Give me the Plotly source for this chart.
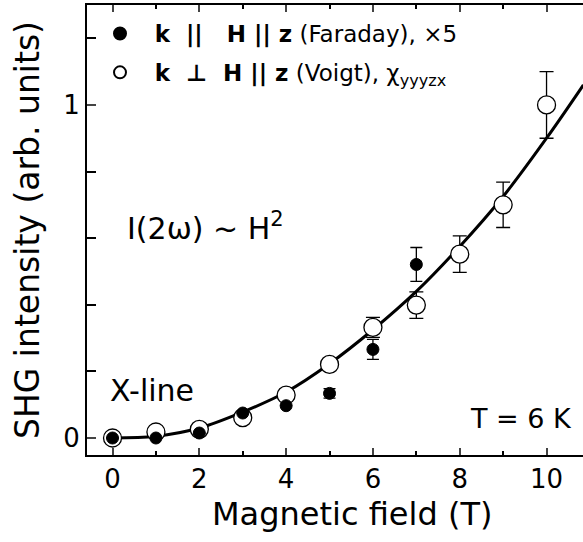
import plotly.graph_objects as go

# ---- data ----
field = [0, 1, 2, 3, 4, 5, 6, 7, 8, 9, 10]

faraday_field = [0, 1, 2, 3, 4, 5, 6, 7]
faraday_val = [0.0, 0.0, 0.015, 0.075, 0.097, 0.134, 0.266, 0.521]
faraday_err = [0.0, 0.0, 0.0, 0.0, 0.0, 0.014, 0.03, 0.051]

voigt_val = [0.0, 0.018, 0.026, 0.061, 0.129, 0.221, 0.332, 0.399, 0.552, 0.70, 1.0]
voigt_err = [0.0, 0.0, 0.0, 0.0, 0.0, 0.0, 0.03, 0.04, 0.055, 0.068, 0.1]

fit_field = [0, 1, 2, 3, 4, 5, 6, 7, 8, 9, 10, 10.85]
fit_val = [0.0, 0.005, 0.03, 0.078, 0.138, 0.223, 0.325, 0.44, 0.575, 0.725, 0.9, 1.06]

x_ticks = [0, 2, 4, 6, 8, 10]
y_ticks = [0, 1]

FONT = "DejaVu Sans"
W, H = 583, 542
L, T, R, B = 87, 5, 0, 87
pw, ph = W - L - R, H - T - B

def px(x):
    return (x - L) / pw

def py(y):
    return (T + ph - y) / ph

fig = go.Figure()

fig.add_trace(go.Scatter(
    x=fit_field, y=fit_val, mode="lines", line=dict(color="black", width=3, shape="spline"),
    showlegend=False, hoverinfo="skip"))

fig.add_trace(go.Scatter(
    x=field, y=voigt_val, mode="markers",
    error_y=dict(type="data", array=voigt_err, color="black", thickness=1.3, width=7),
    marker=dict(symbol="circle", size=18, color="white", line=dict(color="black", width=1.3)),
    name="\u00a0\u00a0<b>k \u00a0\u22a5\u00a0 H || z</b> (Voigt), \u03c7<sub>yyyzx</sub>",
    legendrank=2, legendgroup="b"))

fig.add_trace(go.Scatter(
    x=faraday_field, y=faraday_val, mode="markers",
    error_y=dict(type="data", array=faraday_err, color="black", thickness=1.3, width=6),
    marker=dict(symbol="circle", size=12, color="black", line=dict(color="black", width=1)),
    name="\u00a0\u00a0<b>k  ||   H || z</b> (Faraday), \u00d75",
    legendrank=1, legendgroup="a"))

fig.update_layout(
    width=W, height=H,
    margin=dict(l=L, r=R, t=T, b=B),
    paper_bgcolor="white", plot_bgcolor="white",
    font=dict(family=FONT, color="black"),
    showlegend=True,
    legend=dict(x=px(100), y=py(12), xanchor="left", yanchor="top",
                font=dict(size=23, family=FONT, color="black"),
                bgcolor="rgba(0,0,0,0)", tracegroupgap=6, itemsizing="constant"),
    xaxis=dict(range=[-0.588, 10.84], tickvals=x_ticks, ticks="inside", ticklen=7, tickwidth=2,
               showline=True, linecolor="black", linewidth=2, mirror="allticks",
               showgrid=False, zeroline=False,
               tickfont=dict(size=26, family=FONT, color="black"),
               minor=dict(dtick=1, tick0=1, ticks="inside", ticklen=4, tickwidth=2, tickcolor="black", showgrid=False)),
    yaxis=dict(range=[-0.051, 1.30], tickvals=y_ticks, ticks="inside",
               ticklen=9, tickwidth=2, showline=True, linecolor="black", linewidth=2,
               showgrid=False, zeroline=False,
               tickfont=dict(size=26, family=FONT, color="black"),
               minor=dict(dtick=0.2, tick0=0, ticks="inside", ticklen=9, tickwidth=2, tickcolor="black", showgrid=False)),
    annotations=[
        dict(text="Magnetic field (T)", xref="paper", yref="paper", x=px(352), y=py(514),
             showarrow=False, font=dict(size=32, family=FONT, color="black"), xanchor="center", yanchor="middle"),
        dict(text="SHG intensity (arb. units)", xref="paper", yref="paper", x=px(27), y=py(230),
             textangle=-90, showarrow=False, font=dict(size=33, family=FONT, color="black"),
             xanchor="center", yanchor="middle"),
        dict(text="I(2\u03c9) ~ H<sup>2</sup>", xref="paper", yref="paper", x=px(125), y=py(226),
             showarrow=False, font=dict(size=30, family=FONT, color="black"), xanchor="left", yanchor="middle"),
        dict(text="X-line", xref="paper", yref="paper", x=px(108), y=py(390),
             showarrow=False, font=dict(size=30, family=FONT, color="black"), xanchor="left", yanchor="middle"),
        dict(text="T = 6 K", xref="paper", yref="paper", x=px(574), y=py(418),
             showarrow=False, font=dict(size=27, family=FONT, color="black"), xanchor="right", yanchor="middle"),
    ],
)

fig.write_html("out.html", config={"displayModeBar": False},
               post_script="document.body.style.margin='0';document.body.style.overflow='hidden';")
